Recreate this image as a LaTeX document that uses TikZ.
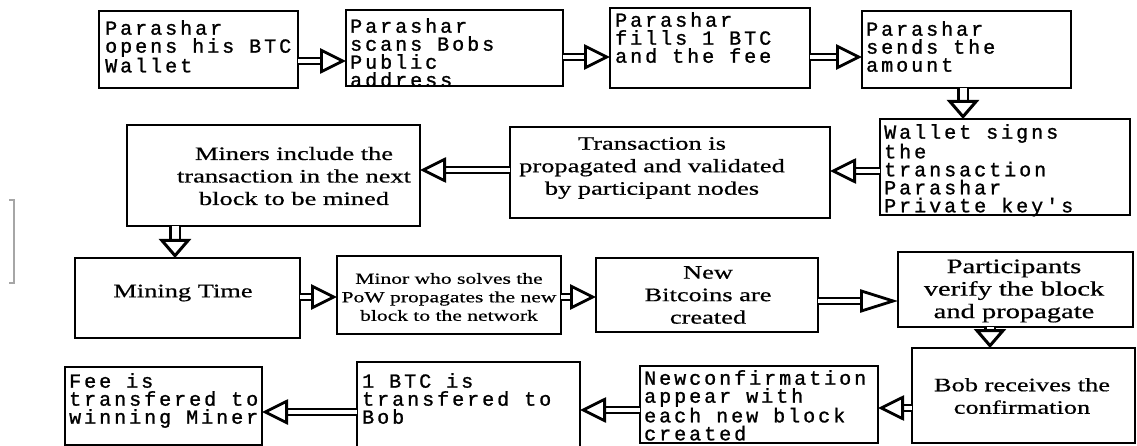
\documentclass[tikz,border=0pt]{standalone}
\usepackage{fontspec}
\setmainfont{Liberation Serif}
\newfontfamily\widesrf{Liberation Serif}[FakeStretch=1.39, FakeBold=0.6]
\newfontfamily\typewr{Liberation Mono}[LetterSpace=15, FakeBold=1.2]
\usetikzlibrary{arrows.meta}

\tikzset{
  stepbox/.style={draw, line width=2.8pt, inner sep=0pt, outer sep=0pt, anchor=north west},
  mono/.style={anchor=north west, inner sep=0pt, align=left,
    font=\typewr\fontsize{20}{18}\selectfont},
  srf/.style={align=center, inner sep=0pt, font=\widesrf\fontsize{19}{22.5}\selectfont},
  srfsmall/.style={srf, font=\widesrf\fontsize{15.5}{18.5}\selectfont},
  srfbig/.style={srf, font=\widesrf\fontsize{20.5}{22.5}\selectfont},
  flow/.style={double, double distance=4.5pt, line width=2pt,
    -{Triangle[open, length=26pt, width=25pt, line width=2.8pt, fill=white]}},
  flowlong/.style={flow, -{Triangle[open, length=38pt, width=23pt, line width=2.8pt, fill=white]}},
  flowdown/.style={double, double distance=7pt, line width=2.3pt,
    -{Triangle[open, length=19pt, width=32pt, line width=3pt, fill=white]}},
}

\begin{document}
\begin{tikzpicture}[x=1pt, y=-1pt]
\useasboundingbox (0,0) rectangle (1137,446);

% ---- row 1 ----
\node[stepbox, minimum width=199pt, minimum height=77pt] (open) at (99,11) {};
\node[stepbox, minimum width=217pt, minimum height=76pt] (scan) at (346,10) {};
\node[stepbox, minimum width=200pt, minimum height=80pt] (fill) at (610,8) {};
\node[stepbox, minimum width=209pt, minimum height=77pt] (send) at (862,11) {};

% ---- row 2 ----
\node[stepbox, minimum width=250pt, minimum height=96pt] (sign) at (880,119) {};
\node[stepbox, minimum width=320pt, minimum height=91pt] (prop) at (510,127) {};
\node[stepbox, minimum width=293pt, minimum height=101pt] (incl) at (127,125) {};

% ---- row 3 ----
\node[stepbox, minimum width=225pt, minimum height=80pt] (mine) at (75,258) {};
\node[stepbox, minimum width=224pt, minimum height=78pt] (solve) at (337,256) {};
\node[stepbox, minimum width=222pt, minimum height=74pt] (coins) at (596,258) {};
\node[stepbox, minimum width=235pt, minimum height=75pt] (verify) at (898,252) {};

% ---- row 4 ----
\node[stepbox, minimum width=223pt, minimum height=95pt] (recv) at (912,348) {};
\node[stepbox, minimum width=238pt, minimum height=77pt] (conf) at (640,366) {};
\node[stepbox, minimum width=223pt, minimum height=90pt] (btc) at (357,362) {};
\node[stepbox, minimum width=197pt, minimum height=78pt] (fee) at (65,367) {};

% ---- typewriter labels, cut off at the box edges ----
\begin{scope}
  \clip (open.north west) rectangle (open.south east);
  \node[mono] (t-open) at (105,20) {Parashar\\opens his BTC\\Wallet};
\end{scope}
\begin{scope}
  \clip (scan.north west) rectangle (scan.south east);
  \node[mono] (t-scan) at (350,18) {Parashar\\scans Bobs\\Public\\address};
\end{scope}
\node[mono] (t-fill) at (615,12) {Parashar\\fills 1 BTC\\and the fee};
\node[mono] (t-send) at (866,21) {Parashar\\sends the\\amount};
\node[mono] (t-sign) at (884,124) {Wallet signs\\the\\transaction\\Parashar\\Private key's};
\node[mono] (t-conf) at (644,370) {Newconfirmation\\appear with\\each new block\\created};
\node[mono] (t-btc) at (362,373) {1 BTC is\\transfered to\\Bob};
\node[mono] (t-fee) at (69,373) {Fee is\\transfered to\\winning Miner};

% ---- serif labels ----
\node[srf] (t-prop) at (652,168) {Transaction is\\propagated and validated\\by participant nodes};
\node[srf] (t-incl) at (294,176) {Miners include the\\transaction in the next\\block to be mined};
\node[srf] (t-mine) at (183,293) {Mining Time};
\node[srfsmall] (t-solve) at (449,297) {Minor who solves the\\PoW propagates the new\\block to the network};
\node[srf] (t-coins) at (708,295) {New\\Bitcoins are\\created};
\node[srfbig] (t-verify) at (1014,291) {Participants\\verify the block\\and propagate};
\node[srf] (t-recv) at (1022,396) {Bob receives the\\confirmation};

% ---- flow arrows ----
\draw[flow] (open.east |- 0,61) -- (scan.west |- 0,61);
\draw[flow] (scan.east |- 0,57) -- (fill.west |- 0,57);
\draw[flow] (fill.east |- 0,57) -- (send.west |- 0,57);
\draw[flowdown] (send.south -| 963,0) -- (sign.north -| 963,0);
\draw[flow] (sign.west |- 0,171) -- (prop.east |- 0,171);
\draw[flow] (prop.west |- 0,170) -- (incl.east |- 0,170);
\draw[flowdown] (incl.south -| 175,0) -- (mine.north -| 175,0);
\draw[flow] (mine.east |- 0,297) -- (solve.west |- 0,297);
\draw[flow] (solve.east |- 0,297) -- (coins.west |- 0,297);
\draw[flowlong] (coins.east |- 0,301) -- (verify.west |- 0,301);
\draw[flowdown] (verify.south -| 990,0) -- (recv.north -| 990,0);
\draw[flow] (recv.west |- 0,408) -- (conf.east |- 0,408);
\draw[flow] (conf.west |- 0,410) -- (btc.east |- 0,410);
\draw[flow] (btc.west |- 0,412) -- (fee.east |- 0,412);

% ---- stray bracket mark at the left margin ----
\draw[gray!70, line width=1.2pt] (9,200) -- (14,200) -- (14,283) -- (9,283);
\end{tikzpicture}
\end{document}
